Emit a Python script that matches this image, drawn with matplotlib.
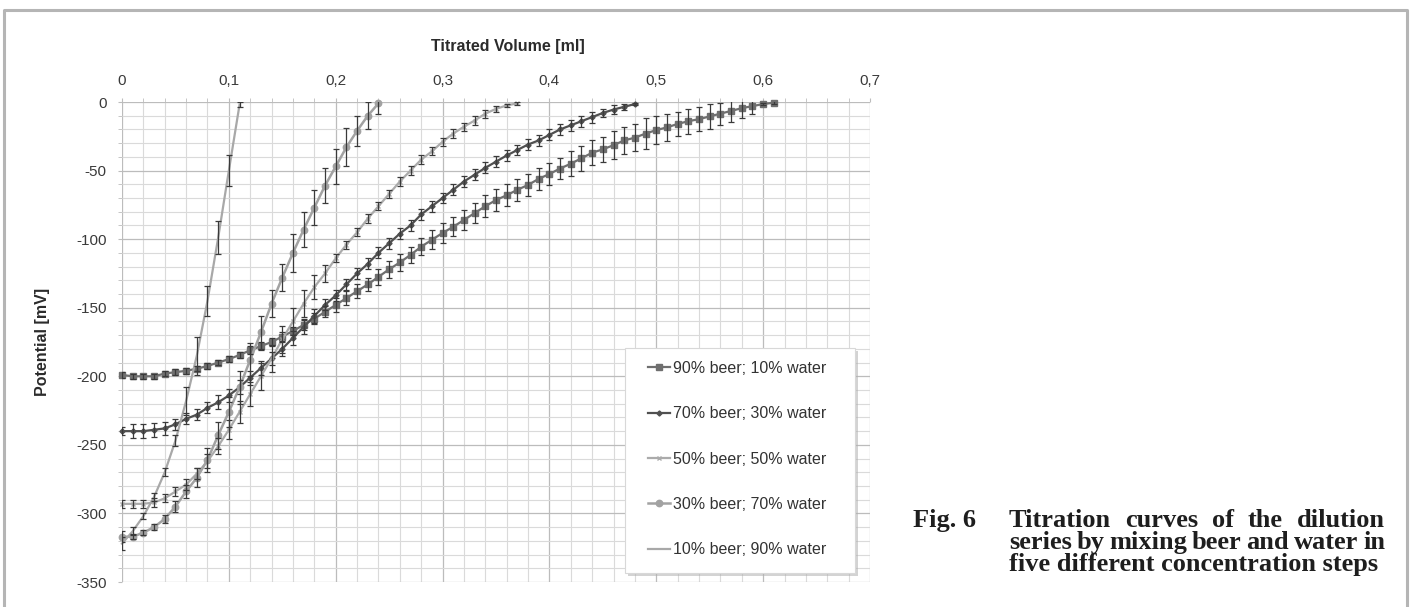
import matplotlib
matplotlib.use("Agg")
import matplotlib.pyplot as plt
from matplotlib.lines import Line2D
from matplotlib.patches import Rectangle

# ---------------- data ----------------
volume = [0.00, 0.01, 0.02, 0.03, 0.04, 0.05, 0.06, 0.07, 0.08, 0.09,
          0.10, 0.11, 0.12, 0.13, 0.14, 0.15, 0.16, 0.17, 0.18, 0.19,
          0.20, 0.21, 0.22, 0.23, 0.24, 0.25, 0.26, 0.27, 0.28, 0.29,
          0.30, 0.31, 0.32, 0.33, 0.34, 0.35, 0.36, 0.37, 0.38, 0.39,
          0.40, 0.41, 0.42, 0.43, 0.44, 0.45, 0.46, 0.47, 0.48, 0.49,
          0.50, 0.51, 0.52, 0.53, 0.54, 0.55, 0.56, 0.57, 0.58, 0.59,
          0.60, 0.61]

labels = ["90% beer; 10% water", "70% beer; 30% water", "50% beer; 50% water",
          "30% beer; 70% water", "10% beer; 90% water"]

beer90 = [-199, -200, -200, -200, -198, -197, -196, -194.5, -192.5, -190,
          -187.5, -184.5, -181, -178, -175, -171, -167, -162.5, -158, -153,
          -148, -143, -138, -133, -127.5, -122, -117, -111.5, -105.5, -100.5,
          -95.5, -91, -86, -81, -76, -71.5, -68, -64, -60.5, -56,
          -52.5, -48.5, -45, -41, -37, -34.5, -31.5, -28, -26, -23,
          -20.5, -18.5, -16, -14, -12.5, -10.5, -8.5, -6.5, -4.5, -3,
          -1.5, -0.5]
err90 = [2, 2, 2, 2, 2, 2, 2, 2, 2, 2,
         2, 2, 3, 3, 3, 3, 3, 4, 4, 4,
         5, 5, 5, 5, 6, 6, 6, 6, 6, 7,
         7, 7, 7, 7, 8, 8, 8, 8, 8, 8,
         8, 8, 9, 9, 9, 9, 10, 10, 10, 11,
         10, 10, 9, 9, 9, 9, 8, 8, 7, 6,
         1, 1]

beer70 = [-240, -240, -240, -239, -238, -235, -231, -228, -223, -219,
          -214, -208, -201, -194, -187, -180, -172, -164, -156, -148,
          -141, -133, -125, -118, -110, -103, -96, -90, -82, -76,
          -70, -64, -58, -53, -48, -43.5, -39, -35, -31, -28,
          -24, -20, -17, -14, -11, -8, -5.5, -3.5, -1.5]
err70 = [3, 5, 5, 5, 5, 4, 4, 4, 4, 5,
         5, 5, 5, 5, 5, 5, 5, 5, 5, 4,
         4, 4, 4, 4, 4, 4, 4, 4, 4, 4,
         4, 4, 4, 4, 4, 4, 4, 4, 4, 4,
         4, 4, 4, 4, 4, 3, 3, 2, 1]

beer50 = [-293, -293, -293, -292, -289, -284, -279, -271, -262, -251,
          -239, -226, -213, -200, -187, -173, -160, -147, -135, -125,
          -114, -104, -95, -85, -76, -67, -58, -50, -42, -36,
          -29, -23, -18, -13.5, -8.5, -5, -2.5, -1]
err50 = [3, 3, 3, 3, 3, 3, 4, 4, 5, 6,
         7, 8, 9, 10, 10, 10, 10, 10, 9, 6,
         3, 3, 3, 3, 3, 3, 3, 3, 3, 3,
         3, 3, 3, 3, 3, 2, 1, 1]

beer30 = [-317, -317, -314, -310, -304, -295, -284, -274, -261, -243,
          -226, -208, -188, -168, -147, -128, -110, -93, -77, -61,
          -47, -33, -21, -10, -1]
err30 = [4, 2, 2, 2, 3, 4, 5, 7, 9, 10,
         11, 12, 12, 12, 10, 10, 14, 13, 13, 13,
         13, 14, 11, 10, 8]

beer10 = [-322, -313, -302, -288, -270, -247, -218, -185, -145, -99,
          -50, -2]
err10 = [5, 3, 2, 3, 3, 4, 10, 14, 11, 12,
         11, 2]

xticks = [0, 0.1, 0.2, 0.3, 0.4, 0.5, 0.6, 0.7]
xticklabels = ["0", "0,1", "0,2", "0,3", "0,4", "0,5", "0,6", "0,7"]
yticks = [0, -50, -100, -150, -200, -250, -300, -350]
yticklabels = ["0", "-50", "-100", "-150", "-200", "-250", "-300", "-350"]

caption_fig = "Fig. 6"
caption_lines = ["Titration curves of the dilution",
                 "series by mixing beer and water in",
                 "five different concentration steps"]

# ---------------- figure ----------------
W, H = 1412, 607
DPI = 100
plt.rcParams["font.family"] = ["Liberation Sans", "DejaVu Sans"]
fig = plt.figure(figsize=(W / DPI, H / DPI), dpi=DPI)
fig.patch.set_facecolor("white")

# axes box in pixels: left 122, right 870, top 102, bottom 582
AX_L, AX_R, AX_T, AX_B = 122, 870, 102, 582
ax = fig.add_axes([AX_L / W, 1 - AX_B / H, (AX_R - AX_L) / W, (AX_B - AX_T) / H])
ax.set_xlim(0, 0.7)
ax.set_ylim(-350, 0)
for s in ax.spines.values():
    s.set_visible(False)


def axfrac(px, py):
    return (px - AX_L) / (AX_R - AX_L), (AX_B - py) / (AX_B - AX_T)


ax.set_xticks(xticks)
ax.set_xticklabels(xticklabels)
ax.set_xticks([v / 100 for v in range(0, 71, 2)], minor=True)
ax.set_yticks(yticks)
ax.set_yticklabels(yticklabels)
ax.set_yticks(list(range(-350, 1, 10)), minor=True)
ax.xaxis.tick_top()
ax.tick_params(axis="x", which="both", direction="out", length=3, color="#bdbdbd",
               labelsize=11, labelcolor="#3a3a3a", pad=7)
ax.tick_params(axis="y", which="both", direction="out", length=3, color="#bdbdbd",
               labelsize=11, labelcolor="#3a3a3a", pad=8)
ax.tick_params(which="minor", labelleft=False, labeltop=False)
ax.grid(which="major", color="#bcbcbc", linewidth=0.9)
ax.grid(which="minor", color="#dadada", linewidth=0.8)
ax.set_axisbelow(True)

series = [
    (beer90, err90, "#6f6f6f", "s", 4.0, 1.6),
    (beer70, err70, "#505050", "D", 2.6, 1.6),
    (beer50, err50, "#ababab", "x", 3.5, 1.6),
    (beer30, err30, "#a2a2a2", "o", 4.6, 1.8),
    (beer10, err10, "#a8a8a8", None, 0, 1.6),
]
for (vals, errs, col, mk, ms, lw), lab in zip(series, labels):
    xs = volume[:len(vals)]
    ax.plot(xs, vals, color=col, lw=lw, marker=mk, ms=ms, mew=1.0,
            mfc=col, mec=col, label=lab, zorder=3, clip_on=False)
    ax.errorbar(xs, vals, yerr=errs, fmt="none", ecolor="#3a3a3a",
                elinewidth=0.9, capsize=2.5, capthick=0.9, zorder=4)

# legend box (drawn manually: white box, light edge, soft shadow)
bx0, by0 = axfrac(625, 573)
bx1, by1 = axfrac(855, 348)
sx, sy = 3 / (AX_R - AX_L), 3 / (AX_B - AX_T)
ax.add_patch(Rectangle((bx0 + sx, by0 - sy), bx1 - bx0, by1 - by0,
                       transform=ax.transAxes, facecolor="#b0b0b0",
                       edgecolor="none", alpha=0.55, zorder=5, clip_on=False))
ax.add_patch(Rectangle((bx0, by0), bx1 - bx0, by1 - by0,
                       transform=ax.transAxes, facecolor="white",
                       edgecolor="#d8d8d8", lw=0.8, zorder=5.1, clip_on=False))
lx, ly = axfrac(648, 361)
leg = ax.legend(loc="upper left", bbox_to_anchor=(lx, ly),
                borderaxespad=0, borderpad=0, fontsize=11.5, labelspacing=1.9,
                handlelength=1.4, handletextpad=0.15, frameon=False)
leg.set_zorder(6)
for t in leg.get_texts():
    t.set_color("#333333")

# axis titles
fig.text(508 / W, 1 - 47 / H, "Titrated Volume [ml]", ha="center", va="center",
         fontsize=11.5, fontweight="bold", color="#2b2b2b")
fig.text(43 / W, 1 - 342 / H, "Potential [mV]", ha="center", va="center",
         rotation=90, fontsize=11.5, fontweight="bold", color="#2b2b2b")

# outer frame (open at bottom)
fig.add_artist(Line2D([4 / W, 4 / W, 1407 / W, 1407 / W],
                      [-0.05, 1 - 10 / H, 1 - 10 / H, -0.05],
                      transform=fig.transFigure, color="#b5b5b5", lw=2.2))

# caption (justified)
cap_kw = dict(fontsize=19, fontweight="bold", color="#1e1e1e",
              family=["Liberation Serif", "DejaVu Serif"], va="baseline")
renderer = fig.canvas.get_renderer()
baselines = [527, 549, 571]
fig.text(913 / W, 1 - baselines[0] / H, caption_fig, ha="left", **cap_kw)
left_px, right_px = 1009, 1385
for i, line in enumerate(caption_lines):
    y = 1 - baselines[i] / H
    if i == len(caption_lines) - 1:
        fig.text(left_px / W, y, line, ha="left", **cap_kw)
        continue
    words = line.split()
    arts = [fig.text(0, y, w, ha="left", **cap_kw) for w in words]
    widths = [a.get_window_extent(renderer).width for a in arts]
    gap = (right_px - left_px - sum(widths)) / (len(words) - 1)
    xpos = left_px
    for a, wd in zip(arts, widths):
        a.set_x(xpos / W)
        xpos += wd + gap

fig.savefig("out.png", dpi=DPI, facecolor="white")
